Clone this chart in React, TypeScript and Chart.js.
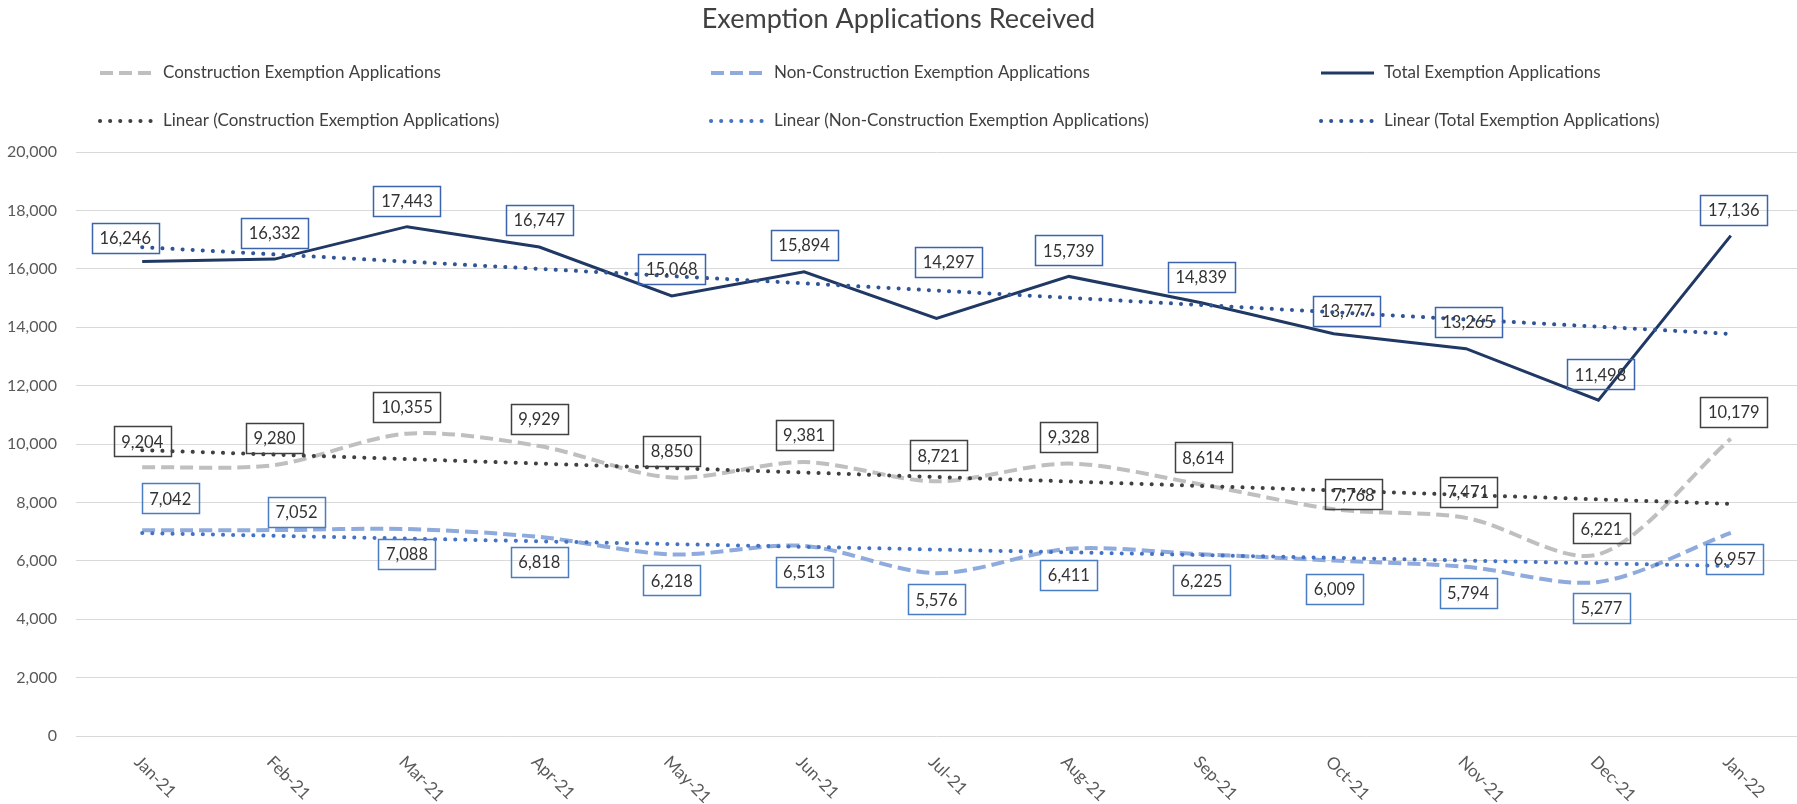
import React, { useEffect, useRef } from 'react';
import { Chart, registerables } from 'chart.js';

Chart.register(...registerables);

const months = ['Jan-21', 'Feb-21', 'Mar-21', 'Apr-21', 'May-21', 'Jun-21', 'Jul-21', 'Aug-21', 'Sep-21', 'Oct-21', 'Nov-21', 'Dec-21', 'Jan-22'];
const construction = [9204, 9280, 10355, 9929, 8850, 9381, 8721, 9328, 8614, 7768, 7471, 6221, 10179];
const nonConstruction = [7042, 7052, 7088, 6818, 6218, 6513, 5576, 6411, 6225, 6009, 5794, 5277, 6957];
const total = [16246, 16332, 17443, 16747, 15068, 15894, 14297, 15739, 14839, 13777, 13265, 11498, 17136];
// trend line end points (Jan-21, Jan-22)
const trendConstruction = [9790, 7950];
const trendNonConstruction = [6950, 5820];
const trendTotal = [16740, 13770];
const yMin = 0;
const yMax = 20000;
const yStep = 2000;

// label placement offsets in pixels [dx, dy] from each point
const offsetsTotal = [[-17, -24], [0, -26], [0, -26], [0, -27], [0, -27], [0, -27], [12, -57], [0, -26], [0, -26], [13, -23], [2, -27], [2, -26], [3, -26]];
const offsetsConstruction = [[0, -26], [0, -27], [0, -27], [0, -27], [0, -27], [0, -27], [2, -26], [0, -27], [2, -27], [20, -15], [2, -26], [3, -26], [3, -27]];
const offsetsNonConstruction = [[28, -32], [22, -18], [0, 25], [0, 25], [0, 26], [0, 26], [0, 26], [0, 26], [0, 26], [1, 28], [2, 26], [3, 26], [4, 26]];

const FONT = 'Lato, "Noto Sans", sans-serif';
const fmt = (v: number) => v.toLocaleString('en-US');

const overlayPlugin = {
  id: 'overlay',
  afterDatasetsDraw(chart: any) {
    const ctx = chart.ctx;
    ctx.save();
    ctx.font = `16.5px ${FONT}`;
    ctx.textAlign = 'center';
    ctx.textBaseline = 'middle';
    chart.data.datasets.forEach((ds: any, i: number) => {
      if (!ds.labelOffsets) return;
      const meta = chart.getDatasetMeta(i);
      meta.data.forEach((pt: any, j: number) => {
        const v = ds.data[j] as number;
        const txt = fmt(v);
        const [dx, dy] = ds.labelOffsets[j];
        const cx = pt.x + dx;
        const cy = pt.y + dy;
        const tw = ctx.measureText(txt).width;
        const w = Math.round(tw + 15);
        const h = 30;
        ctx.lineWidth = 1.5;
        ctx.strokeStyle = ds.labelBorder;
        ctx.strokeRect(Math.round(cx - w / 2) + 0.5, Math.round(cy - h / 2) + 0.5, w, h);
        ctx.fillStyle = '#333333';
        ctx.fillText(txt, cx, cy + 1);
      });
    });
    ctx.restore();
  },
  afterDraw(chart: any) {
    const ctx = chart.ctx;
    ctx.save();
    // title
    ctx.fillStyle = '#404040';
    ctx.font = `27px ${FONT}`;
    ctx.textAlign = 'center';
    ctx.textBaseline = 'middle';
    ctx.fillText('Exemption Applications Received', chart.width / 2, 19);
    // legend
    const cols = [100, 711, 1321];
    const rows = [73, 121];
    ctx.font = `17px ${FONT}`;
    ctx.textAlign = 'left';
    chart.data.datasets.forEach((ds: any, i: number) => {
      const x0 = cols[i % 3];
      const y0 = rows[Math.floor(i / 3)];
      ctx.save();
      ctx.strokeStyle = ds.borderColor;
      ctx.lineWidth = ds.borderWidth;
      ctx.setLineDash(ds.borderDash || []);
      ctx.lineCap = ds.borderCapStyle || 'butt';
      ctx.beginPath();
      ctx.moveTo(x0, y0);
      ctx.lineTo(x0 + 53, y0);
      ctx.stroke();
      ctx.restore();
      ctx.fillStyle = '#404040';
      ctx.fillText(ds.label, x0 + 63, y0);
    });
    // rotated x labels
    const xs = chart.scales.x;
    ctx.font = `17px ${FONT}`;
    ctx.fillStyle = '#595959';
    ctx.textAlign = 'left';
    ctx.textBaseline = 'middle';
    months.forEach((m, i) => {
      const x = xs.getPixelForTick(i);
      ctx.save();
      ctx.translate(x - 5, chart.chartArea.bottom + 23);
      ctx.rotate(Math.PI / 4);
      ctx.fillText(m, 0, 0);
      ctx.restore();
    });
    ctx.restore();
  },
};

export default function App() {
  const ref = useRef<HTMLCanvasElement>(null);
  useEffect(() => {
    document.body.style.margin = '0';
    const canvas = ref.current!;
    const chart = new Chart(canvas, {
      type: 'line',
      data: {
        labels: months,
        datasets: [
          {
            label: 'Construction Exemption Applications',
            data: construction,
            borderColor: '#bfbfbf',
            borderWidth: 4,
            borderDash: [13, 6],
            tension: 0.3,
            pointRadius: 0,
            order: 1,
            labelOffsets: offsetsConstruction,
            labelBorder: '#404040',
          } as any,
          {
            label: 'Non-Construction Exemption Applications',
            data: nonConstruction,
            borderColor: '#8faadc',
            borderWidth: 4,
            borderDash: [13, 6],
            tension: 0.3,
            pointRadius: 0,
            order: 1,
            labelOffsets: offsetsNonConstruction,
            labelBorder: '#4a7cc4',
          } as any,
          {
            label: 'Total Exemption Applications',
            data: total,
            borderColor: '#203864',
            borderWidth: 3,
            tension: 0,
            pointRadius: 0,
            order: 1,
            labelOffsets: offsetsTotal,
            labelBorder: '#3b63ae',
          } as any,
          {
            label: 'Linear (Construction Exemption Applications)',
            data: [{ x: months[0], y: trendConstruction[0] }, { x: months[months.length - 1], y: trendConstruction[1] }],
            borderColor: '#404040',
            borderWidth: 4,
            borderDash: [0.1, 10],
            borderCapStyle: 'round',
            pointRadius: 0,
            order: 0,
          } as any,
          {
            label: 'Linear (Non-Construction Exemption Applications)',
            data: [{ x: months[0], y: trendNonConstruction[0] }, { x: months[months.length - 1], y: trendNonConstruction[1] }],
            borderColor: '#4472c4',
            borderWidth: 4,
            borderDash: [0.1, 10],
            borderCapStyle: 'round',
            pointRadius: 0,
            order: 0,
          } as any,
          {
            label: 'Linear (Total Exemption Applications)',
            data: [{ x: months[0], y: trendTotal[0] }, { x: months[months.length - 1], y: trendTotal[1] }],
            borderColor: '#2f5597',
            borderWidth: 4,
            borderDash: [0.1, 10],
            borderCapStyle: 'round',
            pointRadius: 0,
            order: 0,
          } as any,
        ],
      },
      options: {
        animation: false,
        responsive: false,
        layout: { padding: { top: 152, left: 0, right: 0, bottom: 0 } },
        plugins: {
          legend: { display: false },
          title: { display: false },
          tooltip: { enabled: false },
        },
        scales: {
          x: {
            type: 'category',
            offset: true,
            grid: { display: false },
            border: { display: false },
            ticks: { display: false },
            afterFit: (s: any) => { s.height = 68; },
          },
          y: {
            min: yMin,
            max: yMax,
            border: { display: false },
            grid: { color: '#d9d9d9', lineWidth: 1, drawTicks: false },
            ticks: {
              stepSize: yStep,
              padding: 19,
              color: '#595959',
              font: { family: FONT, size: 16 },
              callback: (v: any) => fmt(Number(v)),
            },
            afterFit: (s: any) => { s.width = 76; },
          },
        },
      },
      plugins: [overlayPlugin],
    } as any);
    return () => chart.destroy();
  }, []);
  return (
    <div style={{ width: 1797, height: 804, background: '#fff' }}>
      <canvas ref={ref} width={1797} height={804} style={{ display: 'block' }} />
    </div>
  );
}
